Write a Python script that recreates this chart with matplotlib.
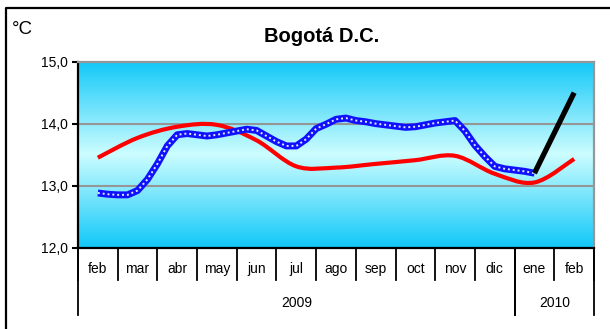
import numpy as np
import matplotlib
matplotlib.use("Agg")
import matplotlib.pyplot as plt
from matplotlib.path import Path
from matplotlib.patches import PathPatch
from matplotlib.lines import Line2D
from matplotlib.colors import LinearSegmentedColormap

plt.rcParams['font.family'] = ['Liberation Sans', 'DejaVu Sans']

months = ["feb", "mar", "abr", "may", "jun", "jul", "ago", "sep", "oct",
          "nov", "dic", "ene", "feb"]
years = ["2009", "2010"]
year_spans = [(-0.5, 10.5), (10.5, 12.5)]

# monthly mean (smoothed line)
mean_temp = [13.45, 13.77, 13.95, 13.98, 13.73, 13.31, 13.29, 13.35, 13.41,
             13.48, 13.19, 13.05, 13.43]

# observed series, four readings per month from feb 2009 to ene 2010
obs_step = 0.25
obs_temp = [12.88, 12.86, 12.85, 12.85, 12.92, 13.10, 13.35, 13.64, 13.82,
            13.84, 13.82, 13.80, 13.82, 13.85, 13.88, 13.91, 13.89, 13.80,
            13.71, 13.64, 13.64, 13.75, 13.92, 13.99, 14.07, 14.09, 14.05,
            14.03, 14.00, 13.98, 13.96, 13.94, 13.95, 13.98, 14.01, 14.03,
            14.05, 13.88, 13.65, 13.47, 13.31, 13.27, 13.25, 13.23, 13.20]

# forecast ene -> feb 2010
fc_x = [11, 12]
fc_temp = [13.20, 14.50]


def smooth_path(x, y):
    # Catmull-Rom spline drawn as cubic Bezier segments
    p = np.column_stack([x, y]).astype(float)
    pts = np.vstack([p[0], p, p[-1]])
    verts = [p[0]]
    codes = [Path.MOVETO]
    for i in range(1, len(pts) - 2):
        c1 = pts[i] + (pts[i + 1] - pts[i - 1]) / 6
        c2 = pts[i + 1] - (pts[i + 2] - pts[i]) / 6
        verts += [c1, c2, pts[i + 1]]
        codes += [Path.CURVE4] * 3
    return Path(verts, codes)


fig = plt.figure(figsize=(6.1, 3.29), dpi=100)
ax = fig.add_axes([78 / 610, 1 - 247.5 / 329, 516 / 610, 185.8 / 329])

ax.set_xlim(-0.5, 12.5)
ax.set_ylim(12, 15)

# background gradient, light in the middle
cmap = LinearSegmentedColormap.from_list("bg", ["#12c8f8", "#cdfdff", "#12c8f8"])
grad = np.linspace(0, 1, 256).reshape(-1, 1)
ax.imshow(grad, extent=[-0.5, 12.5, 12, 15], origin="lower", aspect="auto",
          cmap=cmap, zorder=0)

for v in [13, 14]:
    ax.axhline(v, color="#969696", lw=1.5, zorder=1)

# red mean line
ax.add_patch(PathPatch(smooth_path(range(len(mean_temp)), mean_temp),
                       facecolor="none", edgecolor="#ff0000", lw=3.0,
                       capstyle="butt", zorder=3))

# blue observed series
obs_x = np.arange(len(obs_temp)) * obs_step
ax.plot(obs_x, obs_temp, color="#1010ff", lw=5.0, solid_capstyle="butt",
        solid_joinstyle="round", zorder=4)
ax.plot(obs_x, obs_temp, color="#e0ecff", lw=1.4, dashes=(1.0, 1.5),
        dash_capstyle="butt", zorder=5)

# black forecast
ax.plot(fc_x, fc_temp, color="black", lw=3.8, solid_capstyle="butt", zorder=6)

# axes styling
ax.set_yticks([12, 13, 14, 15])
ax.set_yticklabels(["12,0", "13,0", "14,0", "15,0"])
ax.tick_params(axis="y", direction="out", length=4, width=1.5, pad=3.5,
               labelsize=10)
ax.set_xticks([])
for side in ["left", "bottom"]:
    ax.spines[side].set_color("black")
    ax.spines[side].set_linewidth(1.6)
for side in ["top", "right"]:
    ax.spines[side].set_color("#969696")
    ax.spines[side].set_linewidth(1.6)

# month labels and separators
xt = ax.get_xaxis_transform()
for i, m in enumerate(months):
    ax.text(i, -0.118, m, transform=xt, ha="center", va="center", fontsize=10)
for b in np.arange(-0.5, 13, 1):
    ax.add_line(Line2D([b, b], [0, -0.175], transform=xt, color="black",
                       lw=1.3, clip_on=False))
for (a, b), yr in zip(year_spans, years):
    for e in (a, b):
        ax.add_line(Line2D([e, e], [0, -0.365], transform=xt, color="black",
                           lw=1.3, clip_on=False))
    ax.text((a + b) / 2, -0.30, yr, transform=xt, ha="center", va="center",
            fontsize=10)

# titles
fig.text(322 / 610, 1 - 36 / 329, "Bogotá D.C.", ha="center", va="center",
         fontsize=14.5, fontweight="bold")
fig.text(12 / 610, 1 - 30 / 329, "°C", ha="left", va="center", fontsize=13.5)

# outer frame
fig.add_artist(Line2D([6 / 610, 6 / 610, 1.0], [0, 1 - 8 / 329, 1 - 8 / 329],
                      transform=fig.transFigure, color="black", lw=1.6))

fig.savefig("out.png", dpi=100)
